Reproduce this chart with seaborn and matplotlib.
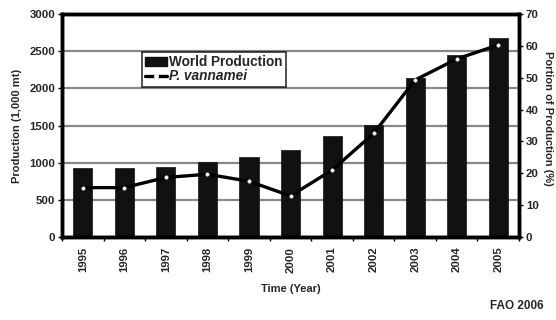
import matplotlib
matplotlib.use("Agg")
import matplotlib.pyplot as plt
import seaborn as sns
import numpy as np
import pandas as pd
from matplotlib.lines import Line2D
from matplotlib.patches import Patch

years = ["1995", "1996", "1997", "1998", "1999", "2000", "2001", "2002", "2003", "2004", "2005"]
world_production = [935, 925, 945, 1010, 1070, 1165, 1355, 1505, 2135, 2455, 2680]
vannamei_portion = [15.5, 15.5, 18.7, 19.7, 17.5, 12.9, 21.0, 32.5, 49.3, 55.9, 60.3]

sns.set_theme(style="white")
plt.rcParams['font.family'] = ['Liberation Sans', 'DejaVu Sans']
plt.rcParams['font.weight'] = 'bold'

df = pd.DataFrame({"Year": years, "Production": world_production, "Portion": vannamei_portion})

fig = plt.figure(figsize=(5.56, 3.2), dpi=100)
ax = fig.add_axes([0.1115, 0.2594, 0.822, 0.6966])

ax.set_axisbelow(True)
ax.yaxis.grid(True, color="#888888", linewidth=1.6)
sns.barplot(data=df, x="Year", y="Production", color="#111111", width=0.46,
            saturation=1, ax=ax, edgecolor="#111111", linewidth=0.5, zorder=2)
ax.set_ylim(0, 3000)
ax.set_xlim(-0.5, len(years) - 0.5)
ax.set_yticks(np.arange(0, 3001, 500))
ax.set_ylabel("Production (1,000 mt)", fontsize=8, fontweight="bold", labelpad=5)
ax.set_xlabel("Time (Year)", fontsize=8, fontweight="bold", labelpad=8)
ax.tick_params(axis="y", labelsize=8.2, length=3, width=1, direction="out", left=True, pad=2, color="black")
ax.tick_params(axis="x", which="major", labelsize=8.2, length=0, pad=7, rotation=90)
ax.set_xticks(np.arange(-0.5, len(years), 1), minor=True)
ax.tick_params(axis="x", which="minor", length=3, width=1, direction="out", bottom=True, color="black")
for lab in ax.get_xticklabels() + ax.get_yticklabels():
    lab.set_fontweight("bold")
for s in ax.spines.values():
    s.set_color("black")
    s.set_linewidth(2.5)

ax2 = ax.twinx()
sns.lineplot(x=np.arange(len(years)), y=vannamei_portion, ax=ax2, color="black",
             linewidth=2.4, marker="o", markersize=2.5, markerfacecolor="white",
             markeredgecolor="white", markeredgewidth=0.3, zorder=3)
ax2.set_ylim(0, 70)
ax2.set_yticks(np.arange(0, 71, 10))
ax2.set_ylabel("Portion of Production (%)", fontsize=8, fontweight="bold", rotation=270, labelpad=11)
ax2.yaxis.set_label_coords(1.075, 0.53)
ax2.tick_params(axis="y", labelsize=8.2, length=3, width=1, direction="out", right=True, pad=2, color="black")
for lab in ax2.get_yticklabels():
    lab.set_fontweight("bold")
ax2.grid(False)
for s in ax2.spines.values():
    s.set_color("black")
    s.set_linewidth(2.5)

handles = [Patch(facecolor="#111111", edgecolor="#111111"),
           Line2D([0], [0], color="black", linewidth=2.4, marker="o", markersize=2.5,
                  markerfacecolor="white", markeredgecolor="white")]
leg = ax.legend(handles, ["World Production", "P. vannamei"], loc="upper left",
                bbox_to_anchor=(0.175, 0.83), frameon=True, fancybox=False,
                prop={"size": 9.8, "weight": "bold"}, handlelength=1.6, handletextpad=0.15,
                borderpad=0.25, labelspacing=0.0, borderaxespad=0, handleheight=0.6)
leg.get_frame().set_edgecolor("black")
leg.get_frame().set_linewidth(1.2)
leg.get_texts()[1].set_fontstyle("italic")

fig.text(0.977, 0.025, "FAO 2006", fontsize=8.5, fontweight="bold", ha="right", va="bottom")

fig.savefig("out.png", dpi=100)
